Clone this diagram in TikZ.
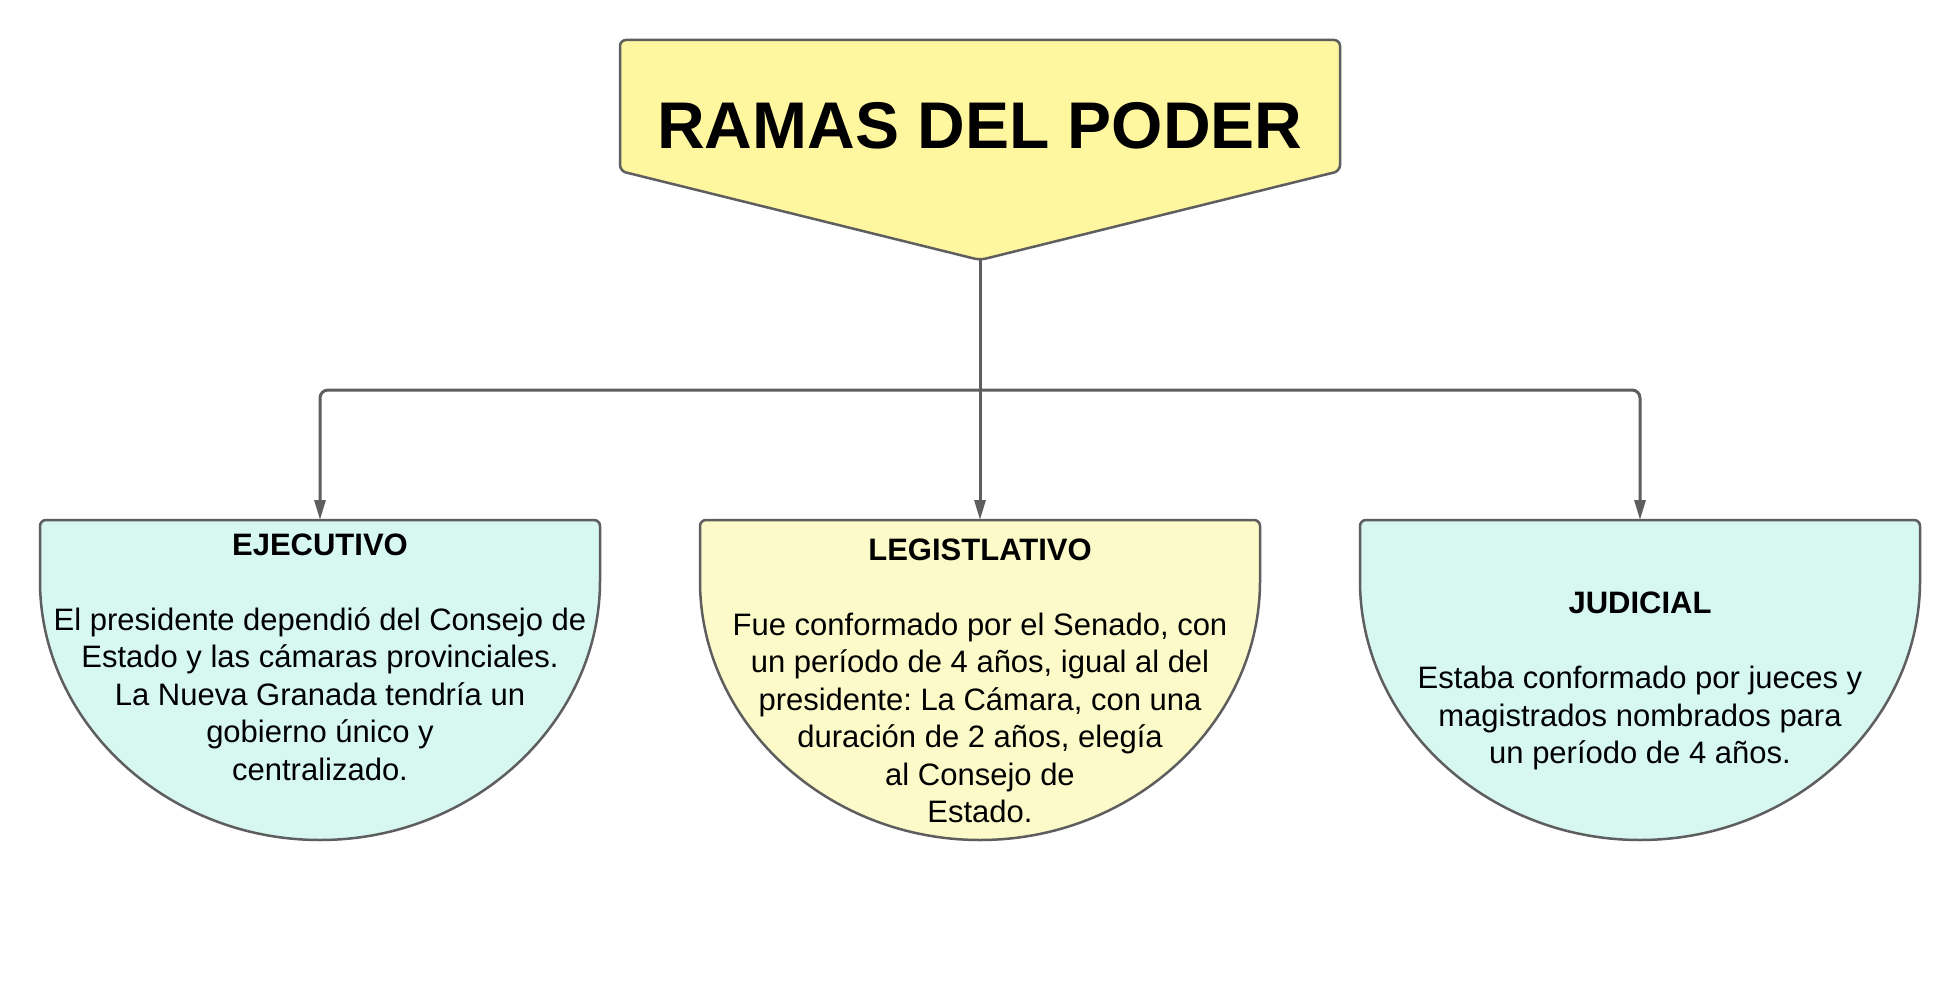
\documentclass[tikz,border=0pt]{standalone}
\usepackage{fontspec}
\setmainfont{Liberation Sans}
\usetikzlibrary{arrows.meta}
\definecolor{edge}{HTML}{5E5E5E}
\definecolor{titlefill}{HTML}{FFF6A0}
\definecolor{aquafill}{HTML}{D6F8F1}
\definecolor{paleyellow}{HTML}{FCFAC9}
\tikzset{
  shapeline/.style={draw=edge, line width=2.5pt, line join=round},
  conn/.style={draw=edge, line width=3pt, rounded corners=8pt},
  arrowconn/.style={conn, -{Triangle[length=20pt,width=11pt]}},
  bodytext/.style={align=center, inner sep=0pt, font=\fontsize{31}{37.5}\selectfont\frenchspacing},
}
\begin{document}
\begin{tikzpicture}[x=1pt,y=-1pt]
\useasboundingbox[fill=white] (0,0) rectangle (1960,995);

% title shape
\path[shapeline, fill=titlefill, rounded corners=6pt]
  (980,260) -- (620,171) -- (620,40) -- (1340,40) -- (1340,171) -- cycle;
\coordinate (tip) at (980,260);
\node[inner sep=0pt, font=\fontsize{66}{70}\selectfont\bfseries] (title) at (980,126) {RAMAS DEL PODER};

% lower shapes
\path[shapeline, fill=aquafill, rounded corners=6pt]
  (40,575) -- (40,520) -- (600,520) -- (600,575)
  arc[start angle=0, end angle=180, x radius=280, y radius=265] -- cycle;
\coordinate (ejtop) at (320,520);

\path[shapeline, fill=paleyellow, rounded corners=6pt]
  (700,575) -- (700,520) -- (1260,520) -- (1260,575)
  arc[start angle=0, end angle=180, x radius=280, y radius=265] -- cycle;
\coordinate (letop) at (980,520);

\path[shapeline, fill=aquafill, rounded corners=6pt]
  (1360,575) -- (1360,520) -- (1920,520) -- (1920,575)
  arc[start angle=0, end angle=180, x radius=280, y radius=265] -- cycle;
\coordinate (jutop) at (1640,520);

% texts
\node[bodytext] (ejtext) at (320,657) {\textbf{EJECUTIVO}\\\mbox{}\\El presidente dependió del Consejo de\\Estado y las cámaras provinciales.\\La Nueva Granada tendría un\\gobierno único y\\centralizado.};
\node[bodytext] (letext) at (980,681) {\textbf{LEGISTLATIVO}\\\mbox{}\\Fue conformado por el Senado, con\\un período de 4 años, igual al del\\presidente: La Cámara, con una\\duración de 2 años, elegía\\al Consejo de\\Estado.};
\node[bodytext] (jutext) at (1640,681) {\textbf{JUDICIAL}\\\mbox{}\\Estaba conformado por jueces y\\magistrados nombrados para\\un período de 4 años.};

% connectors
\coordinate (br) at (980,390);
\draw[conn] (tip) -- (br);
\draw[arrowconn] (br) -| (ejtop);
\draw[arrowconn] (br) -- (letop);
\draw[arrowconn] (br) -| (jutop);
\end{tikzpicture}
\end{document}
